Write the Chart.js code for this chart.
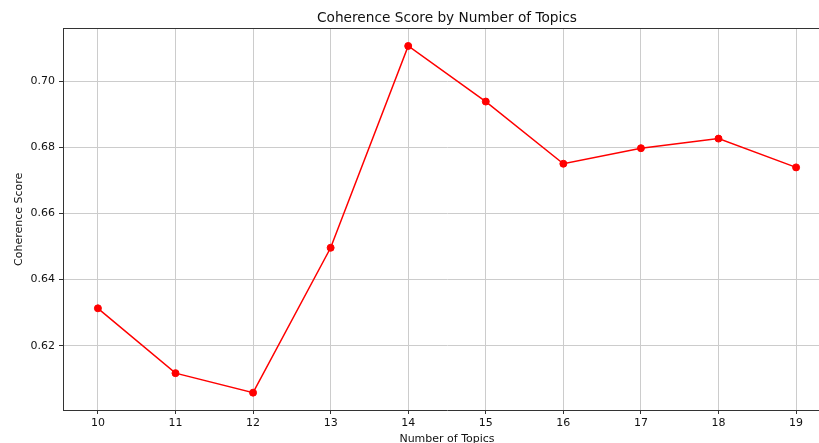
<!DOCTYPE html>
<html>
<head>
<meta charset="utf-8">
<script src="https://cdn.jsdelivr.net/npm/chart.js@4"></script>
<style>
  html, body { margin: 0; padding: 0; background: #fff; overflow: hidden; }
  canvas { display: block; }
</style>
</head>
<body>
<canvas id="chart" width="894" height="460"></canvas>
<script>
// --- DATA ---
const topics = [10, 11, 12, 13, 14, 15, 16, 17, 18, 19];
const coherence = [0.6313, 0.6117, 0.6058, 0.6496, 0.7106, 0.6938, 0.6750, 0.6797, 0.6826, 0.6739];
const yTicks = [0.62, 0.64, 0.66, 0.68, 0.70];

const FONT = "'DejaVu Sans', sans-serif";
const TEXT = '#111';
const GRID = '#cccccc';
const SPINE = '#333';

// matplotlib-style 5% margins around the data
const xPad = (Math.max(...topics) - Math.min(...topics)) * 0.05;
const yPad = (Math.max(...coherence) - Math.min(...coherence)) * 0.05;

new Chart(document.getElementById('chart'), {
  type: 'line',
  data: {
    datasets: [{
      data: topics.map((t, i) => ({ x: t, y: coherence[i] })),
      borderColor: '#ff0000',
      backgroundColor: '#ff0000',
      borderWidth: 1.5,
      pointRadius: 3.5,
      pointBorderWidth: 1,
      pointBackgroundColor: '#ff0000',
      pointBorderColor: '#ff0000',
      tension: 0
    }]
  },
  options: {
    responsive: false,
    animation: false,
    devicePixelRatio: 1,
    layout: { padding: 0 },
    plugins: {
      legend: { display: false },
      tooltip: { enabled: false },
      title: {
        display: true,
        text: 'Coherence Score by Number of Topics',
        color: TEXT,
        font: { family: FONT, size: 13.7, weight: 'normal' },
        padding: { top: 10.6, bottom: 1.6 }
      }
    },
    scales: {
      x: {
        type: 'linear',
        position: 'bottom',
        min: Math.min(...topics) - xPad,
        max: Math.max(...topics) + xPad,
        afterFit: s => { s.height = 50; },
        afterBuildTicks: s => { s.ticks = topics.map(v => ({ value: v })); },
        ticks: {
          color: TEXT,
          font: { family: FONT, size: 11 },
          padding: 3,
          maxRotation: 0,
          callback: v => String(v)
        },
        grid: { color: GRID, lineWidth: 1, tickColor: SPINE, tickLength: 4, tickWidth: 1 },
        border: { display: true, color: SPINE, width: 1 },
        title: {
          display: true,
          text: 'Number of Topics',
          color: TEXT,
          font: { family: FONT, size: 11 },
          padding: { top: 0, bottom: 14.5 }
        }
      },
      xTop: {
        type: 'linear',
        position: 'top',
        afterFit: s => { s.height = 0; },
        ticks: { display: false },
        grid: { display: false, drawTicks: false },
        border: { display: true, color: SPINE, width: 1 }
      },
      y: {
        type: 'linear',
        position: 'left',
        min: Math.min(...coherence) - yPad,
        max: Math.max(...coherence) + yPad,
        afterFit: s => { s.width = 63; },
        afterBuildTicks: s => { s.ticks = yTicks.map(v => ({ value: v })); },
        ticks: {
          color: TEXT,
          font: { family: FONT, size: 11 },
          padding: 4,
          callback: v => v.toFixed(2)
        },
        grid: { color: GRID, lineWidth: 1, tickColor: SPINE, tickLength: 4, tickWidth: 1 },
        border: { display: true, color: SPINE, width: 1 },
        title: {
          display: true,
          text: 'Coherence Score',
          color: TEXT,
          font: { family: FONT, size: 11 },
          padding: { top: 12.4, bottom: 0 }
        }
      },
      yRight: {
        type: 'linear',
        position: 'right',
        afterFit: s => { s.width = 63; },
        ticks: { display: false },
        grid: { display: false, drawTicks: false },
        border: { display: false }
      }
    }
  }
});
</script>
</body>
</html>
